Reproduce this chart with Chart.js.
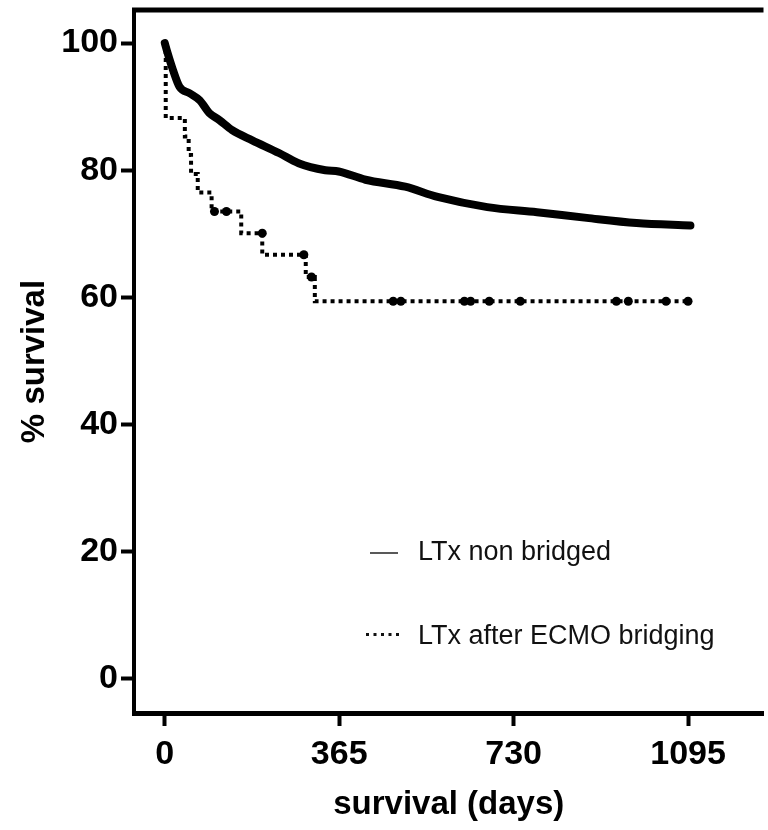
<!DOCTYPE html>
<html><head><meta charset="utf-8">
<script src="https://cdn.jsdelivr.net/npm/chart.js@4.4.1/dist/chart.umd.min.js"></script>
<style>html,body{margin:0;padding:0;background:#fff;} canvas{display:block;}</style>
</head><body>
<canvas id="c" width="768" height="830"></canvas>
<script>
// ---- data ----
const xTicks = [0, 365, 730, 1095];
const yTicks = [0, 20, 40, 60, 80, 100];

const nonBridgedDays     = [0, 6, 17, 31, 52, 73, 93, 114, 141, 183, 239, 280, 336, 364, 420, 503, 571, 675, 779, 883, 987, 1100];
const nonBridgedSurvival = [100, 98.4, 95.8, 93.1, 92.1, 91, 89, 87.9, 86.3, 84.7, 82.7, 81.1, 80, 79.8, 78.5, 77.4, 75.8, 74.2, 73.4, 72.5, 71.7, 71.3];

const ecmoDays     = [0, 2, 42, 50, 55, 69, 98, 160, 204, 295, 314, 1095];
const ecmoSurvival = [100, 88.2, 85.3, 82.4, 79.4, 76.5, 73.5, 70.1, 66.7, 63.2, 59.4, 59.4];

const ecmoCensorDays     = [104, 129, 204, 291, 307, 478, 494, 627, 640, 679, 744, 945, 970, 1049, 1095];
const ecmoCensorSurvival = [73.5, 73.5, 70.1, 66.7, 63.2, 59.4, 59.4, 59.4, 59.4, 59.4, 59.4, 59.4, 59.4, 59.4, 59.4];

const legendLabels = ['LTx non bridged', 'LTx after ECMO bridging'];
const xTitle = 'survival (days)';
const yTitle = '% survival';

const toXY = (xs, ys) => xs.map((x, i) => ({x: x, y: ys[i]}));

Chart.defaults.font.family = "'Liberation Sans', Arial, sans-serif";
Chart.defaults.color = '#000';

const framePlugin = {
  id: 'frame',
  afterDraw(chart) {
    const {ctx, chartArea} = chart;
    ctx.save();
    ctx.strokeStyle = '#000';
    ctx.lineWidth = 5;
    ctx.beginPath();
    ctx.moveTo(chartArea.left - 2, chartArea.top);
    ctx.lineTo(chartArea.right, chartArea.top);
    ctx.stroke();
    ctx.restore();
  }
};

const legendPlugin = {
  id: 'kmLegend',
  afterDraw(chart, args, opts) {
    const ctx = chart.ctx;
    ctx.save();
    ctx.font = "27px 'Liberation Sans', Arial, sans-serif";
    ctx.fillStyle = '#111';
    ctx.textBaseline = 'middle';
    ctx.textAlign = 'left';
    ctx.strokeStyle = '#222';
    ctx.lineWidth = 1.5;
    ctx.beginPath();
    ctx.moveTo(opts.lineX0, opts.row1Y);
    ctx.lineTo(opts.lineX1, opts.row1Y);
    ctx.stroke();
    ctx.fillText(legendLabels[0], opts.textX, opts.row1Y);
    for (let i = 0; i < 5; i++) {
      ctx.fillRect(opts.dotX0 + i * 7.5, opts.row2Y - 4, 3, 3);
    }
    ctx.fillText(legendLabels[1], opts.textX, opts.row2Y);
    ctx.restore();
  }
};

new Chart(document.getElementById('c'), {
  type: 'scatter',
  data: {
    datasets: [
      {
        label: legendLabels[0],
        data: toXY(nonBridgedDays, nonBridgedSurvival),
        showLine: true,
        borderColor: '#000',
        borderWidth: 8,
        borderCapStyle: 'round',
        borderJoinStyle: 'round',
        cubicInterpolationMode: 'monotone',
        pointRadius: 0
      },
      {
        label: legendLabels[1],
        data: toXY(ecmoDays, ecmoSurvival),
        showLine: true,
        stepped: true,
        borderColor: '#000',
        borderWidth: 4,
        borderDash: [4, 4],
        pointRadius: 0
      },
      {
        label: 'censored',
        data: toXY(ecmoCensorDays, ecmoCensorSurvival),
        showLine: false,
        pointRadius: 4.5,
        pointBackgroundColor: '#000',
        pointBorderColor: '#000',
        pointBorderWidth: 0
      }
    ]
  },
  options: {
    responsive: false,
    animation: false,
    devicePixelRatio: 1,
    layout: {padding: {top: 10, left: 0, right: 0, bottom: 0}},
    plugins: {
      legend: {display: false},
      tooltip: {enabled: false},
      kmLegend: {lineX0: 370, lineX1: 398, dotX0: 366, textX: 418, row1Y: 553, row2Y: 637}
    },
    scales: {
      x: {
        type: 'linear',
        min: -64.4,
        max: 1252.9,
        afterBuildTicks: s => { s.ticks = xTicks.map(v => ({value: v})); },
        afterFit: s => { s.height = 117; s.paddingLeft = 0; s.paddingRight = 0; },
        border: {display: true, color: '#000', width: 5},
        grid: {display: true, drawOnChartArea: false, drawTicks: true, tickLength: 13, tickWidth: 4, tickColor: '#000'},
        ticks: {font: {size: 34, weight: 'bold'}, padding: 8, color: '#000', maxRotation: 0, callback: v => String(v)},
        title: {display: true, text: xTitle, font: {size: 33, weight: 'bold'}, padding: {top: 0, bottom: 5}, color: '#000'}
      },
      y: {
        type: 'linear',
        min: -5.35,
        max: 105.19,
        afterBuildTicks: s => { s.ticks = yTicks.map(v => ({value: v})); },
        afterFit: s => { s.width = 134; s.paddingTop = 0; s.paddingBottom = 0; },
        border: {display: true, color: '#000', width: 4},
        grid: {display: true, drawOnChartArea: false, drawTicks: true, tickLength: 13, tickWidth: 4, tickColor: '#000'},
        ticks: {font: {size: 34, weight: 'bold'}, padding: 3, color: '#000', callback: v => String(v)},
        title: {display: true, text: yTitle, font: {size: 33, weight: 'bold'}, padding: {top: 15, bottom: 0}, color: '#000'}
      }
    }
  },
  plugins: [framePlugin, legendPlugin]
});
</script>
</body></html>
